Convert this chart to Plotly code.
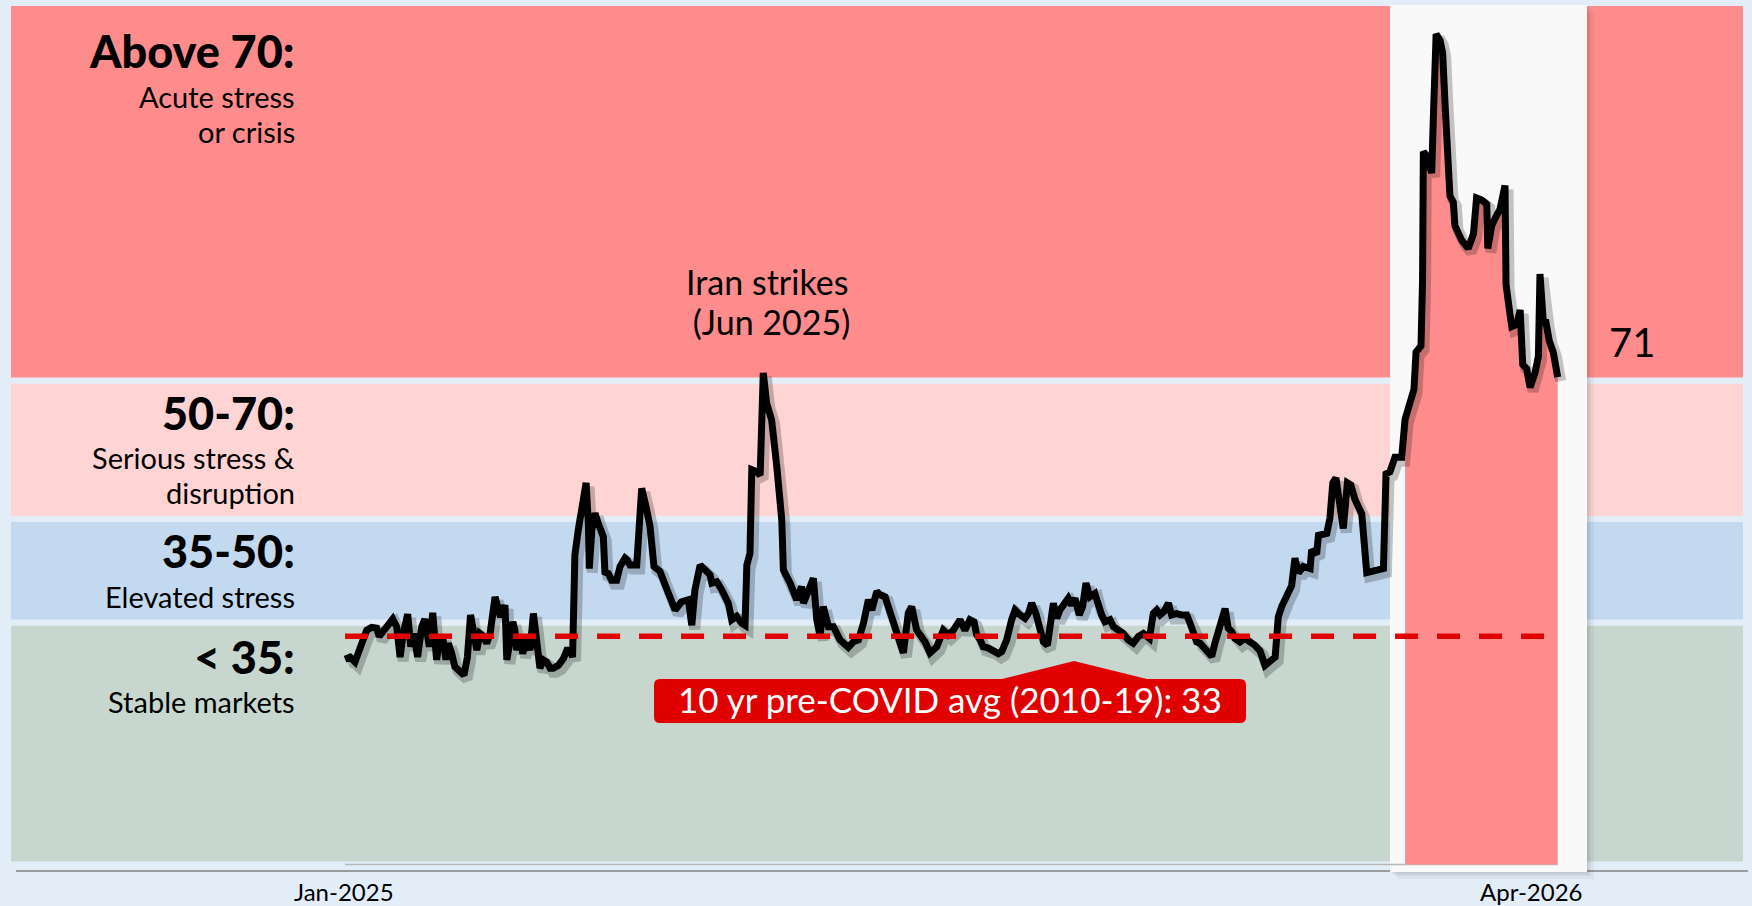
import pandas as pd
import plotly.graph_objects as go

# ---------------- data ----------------
base_date = "2025-01-01"
day_offsets = [
    0.4, 2.3, 4.2, 6.1, 7.4, 8.7, 10.6, 12.5, 13.5, 15.1, 17.0, 18.7, 20.2, 21.5, 22.7, 24.4, 25.6, 26.8, 28.2, 29.8,
    31.0, 32.0, 32.7, 34.0, 35.5, 36.5, 38.1, 39.1, 40.0, 41.3, 42.5, 44.5, 46.0, 47.3, 48.5, 49.8, 50.9, 52.1, 53.4, 54.7,
    56.0, 57.9, 59.2, 60.0, 61.7, 62.4, 63.6, 64.7, 65.5, 66.2, 67.5, 68.5, 70.0, 71.3, 72.6, 73.8, 75.1, 76.4, 77.7, 79.0,
    80.2, 82.2, 84.1, 85.4, 86.6, 87.6, 88.5, 89.8, 91.5, 92.8, 93.7, 94.0, 95.0, 96.2, 97.5, 99.4, 100.0, 101.3, 102.6, 104.5,
    105.8, 107.7, 108.6, 109.6, 112.2, 114.1, 115.8, 117.3, 118.8,
    121.1, 122.4, 124.3, 126.9, 129.4, 132.0, 133.3, 134.5, 136.5, 138.4, 140.3, 141.0, 142.9, 144.8, 147.3, 148.6, 150.5,
    152.4, 153.7, 154.4, 155.6, 156.3, 158.2, 159.5, 160.7, 162.0, 163.9, 165.9, 167.8, 168.4, 171.0, 173.5, 175.4, 176.1,
    178.0, 179.9, 181.2, 182.5, 183.7, 185.7, 187.6, 190.1, 193.3, 195.2, 197.2, 199.1, 201.0, 202.3, 204.2, 205.5, 207.4,
    209.3, 211.8, 214.4, 216.3, 217.6, 219.5, 221.4, 222.7, 224.6, 227.2, 229.7, 231.6, 233.6, 236.1,
    238.0, 239.9, 241.5, 242.5, 243.8, 245.0, 247.0, 248.9, 250.8, 252.1, 254.0, 255.9, 257.2, 259.1, 261.0, 262.3, 263.6,
    265.2, 266.8, 268.1, 269.6, 270.9, 271.9, 273.2, 274.4, 276.3, 277.6, 278.9, 280.2, 281.8, 283.1, 284.4, 285.9, 287.8,
    289.1, 290.4, 291.7, 293.6, 294.9, 296.8, 298.7, 300.6, 302.5, 304.5, 306.4, 308.7, 310.2, 311.5, 312.8, 314.3, 316.0,
    317.2, 319.1, 321.1, 323.0, 324.3, 325.5, 326.8, 328.1, 330.0, 331.3, 332.6, 333.8, 335.1, 336.4, 337.7, 338.9, 340.2,
    341.5, 343.4, 345.3, 347.3, 349.2,
    351.1, 353.0, 356.9, 358.1, 359.4, 361.3, 363.2, 364.5, 365.8, 367.7, 370.3, 370.9, 372.8, 373.5, 376.7, 377.9, 379.0,
    380.2, 381.8, 383.0, 384.6, 385.9, 387.5, 390.1, 392.0, 395.2, 398.4, 399.4, 400.9, 402.8, 405.4, 406.7, 408.3, 410.1,
    410.9, 412.8, 413.4, 413.7, 415.0, 416.9, 417.5, 418.6, 420.1, 421.1, 422.0, 423.9, 425.2, 425.8, 428.4, 430.9, 432.9,
    434.1, 436.1, 438.0, 438.4, 439.9, 441.8, 443.1, 445.0, 445.4, 446.9, 447.6, 449.5, 450.8, 451.8, 453.3, 454.6, 456.5,
    457.8, 458.4, 459.7, 460.7, 462.0, 463.5, 465.2,
]
stress_index = [
    29.7, 30.0, 29.3, 31.5, 32.5, 33.9, 34.3, 34.2, 33.0, 33.7, 34.9, 35.5, 34.4, 30.0, 33.4, 36.2, 31.5, 33.4, 30.0, 34.4,
    35.5, 33.4, 31.5, 36.4, 29.6, 32.1, 32.2, 29.6, 32.0, 30.5, 28.6, 27.9, 27.4, 30.0, 36.1, 33.4, 31.0, 33.4, 33.0, 32.0,
    33.4, 38.7, 37.3, 35.8, 37.5, 29.6, 32.2, 35.1, 33.9, 31.0, 32.9, 30.5, 32.5, 31.0, 36.3, 31.5, 28.4, 29.6, 29.3, 28.4,
    28.4, 28.8, 29.8, 31.0, 31.0, 30.0, 44.8, 48.4, 52.2, 55.2, 48.9, 42.8, 48.4, 50.8, 49.3, 47.4, 42.3, 42.1, 41.1, 41.1,
    43.1, 44.3, 44.0, 43.3, 43.3, 54.4, 51.7, 48.9, 43.1,
    42.4, 41.1, 39.2, 36.8, 38.0, 38.3, 34.6, 39.7, 43.3, 42.6, 41.9, 40.7, 40.9, 39.7, 37.8, 35.4, 35.9,
    34.9, 34.6, 43.3, 45.0, 57.1, 56.8, 56.3, 71.1, 66.7, 64.3, 57.5, 49.8, 42.6, 40.7, 38.3, 40.2, 37.8,
    39.7, 41.4, 35.4, 33.0, 37.3, 34.4, 34.4, 32.5, 31.4, 32.2, 32.5, 34.9, 38.3, 36.8, 39.5, 39.0, 38.7,
    36.4, 33.9, 30.6, 36.4, 37.3, 33.9, 33.0, 32.2, 30.6, 31.5, 33.9, 33.2, 33.9, 35.4,
    33.9, 35.4, 35.1, 33.2, 32.5, 31.5, 31.3, 31.0, 30.5, 30.8, 32.5, 35.4, 36.8, 36.1, 35.6, 36.3, 37.8,
    36.3, 33.9, 32.2, 31.7, 34.4, 37.8, 35.6, 36.8, 37.8, 38.5, 37.5, 38.5, 36.1, 37.3, 40.7, 38.7, 39.2,
    37.3, 36.1, 35.1, 35.4, 34.4, 33.9, 33.4, 32.5, 32.0, 33.0, 33.4, 32.7, 36.3, 36.8, 36.1, 36.6, 37.8,
    36.1, 36.3, 36.1, 36.1, 34.9, 33.4, 32.2, 32.0, 31.3, 30.5, 30.1, 32.0, 33.9, 35.8, 37.0, 34.2, 33.7,
    32.7, 32.2, 32.7, 32.2, 31.7,
    30.9, 28.8, 30.0, 35.8, 37.3, 38.8, 40.3, 44.3, 42.2, 43.1, 42.8, 45.5, 44.9, 47.6, 47.9, 50.1, 55.2,
    55.9, 51.6, 48.6, 55.2, 54.9, 52.8, 50.7, 42.2, 42.5, 42.8, 56.5, 56.8, 58.9, 58.9, 64.4, 66.5, 68.7,
    74.1, 75.0, 84.5, 103.1, 102.5, 100.0, 107.6, 120.1, 119.2, 117.4, 110.1, 96.7, 95.8, 92.4, 90.3, 89.1, 91.2,
    96.4, 96.1, 95.5, 89.1, 92.4, 93.9, 94.8, 98.2, 83.9, 79.6, 77.8, 78.1, 80.2, 72.3, 71.7, 69.0, 71.1,
    73.5, 85.4, 78.4, 78.4, 75.7, 74.1, 70.5,
]
crisis_start_offset = 406.7
precovid_avg = 33
latest_label = "71"
tick_dates = ["2025-01-01", "2026-04-01"]
tick_labels = ["Jan-2025", "Apr-2026"]
band_limits = [0, 35, 50, 70, 124.6]
band_colors = ["#c7d7cf", "#c3d9f0", "#ffd4d4", "#ff8c8c"]
band_titles = ["&lt; 35:", "35-50:", "50-70:", "Above 70:"]
band_descriptions = [["Stable markets"], ["Elevated stress"], ["Serious stress &amp;", "disruption"], ["Acute stress", "or crisis"]]
event_lines = ["Iran strikes", " (Jun 2025)"]
avg_label = "10 yr pre-COVID avg (2010-19): 33"

# ---------------- geometry / style ----------------
W, H = 1752, 906
BG = "#e3edf8"
RED = "#ff8c8c"
PX_PER_DAY = 2.609
PX_PER_UNIT = 6.914
X0_PX = 344.0      # pixel of base date
Y0_PX = 864.5      # pixel of value 0
FONT = "Lato"


def pxx(x):
    return x / W


def pxy(y):
    return 1 - y / H


base = pd.Timestamp(base_date)
dates = base + pd.to_timedelta(day_offsets, unit="D")


def ts(days):
    return (base + pd.Timedelta(days=days)).strftime("%Y-%m-%d %H:%M:%S")


x_lo = -X0_PX / PX_PER_DAY
x_hi = (W - X0_PX) / PX_PER_DAY
y_lo = -(H - Y0_PX) / PX_PER_UNIT
y_hi = Y0_PX / PX_PER_UNIT
sh_dx, sh_dy = 3 / PX_PER_DAY, 4 / PX_PER_UNIT

fig = go.Figure()

mask = [d >= crisis_start_offset for d in day_offsets]
fig.add_trace(go.Scatter(
    x=[d for d, m in zip(dates, mask) if m], y=[v for v, m in zip(stress_index, mask) if m],
    mode="lines", fill="tozeroy", fillcolor=RED, line=dict(width=0, color=RED),
    hoverinfo="skip", showlegend=False, xaxis="x", yaxis="y"))

# line shadow (shifted axes)
fig.add_trace(go.Scatter(x=dates, y=stress_index, mode="lines",
                         line=dict(color="rgba(0,0,0,0.22)", width=11),
                         hoverinfo="skip", showlegend=False, xaxis="x2", yaxis="y2"))

fig.add_trace(go.Scatter(x=dates, y=stress_index, mode="lines",
                         line=dict(color="#000000", width=7),
                         showlegend=False, xaxis="x3", yaxis="y3"))
fig.add_trace(go.Scatter(x=[dates[0], dates[-1]], y=[precovid_avg, precovid_avg], mode="lines",
                         line=dict(color="#e00000", width=5.5, dash="23px,19px"),
                         hoverinfo="skip", showlegend=False, xaxis="x3", yaxis="y3"))

shapes = []
for i, col in enumerate(band_colors):
    shapes.append(dict(type="rect", xref="paper", yref="y", x0=pxx(8), x1=pxx(1746),
                       y0=band_limits[i], y1=band_limits[i + 1], fillcolor=col,
                       line=dict(color=BG, width=6), layer="below"))
shapes.append(dict(type="line", xref="paper", yref="paper", x0=pxx(16), x1=pxx(1748),
                   y0=pxy(871), y1=pxy(871), line=dict(color="#808080", width=1.5), layer="below"))
for d, a in [(2, 0.07), (4, 0.06), (7, 0.05)]:
    shapes.append(dict(type="rect", xref="paper", yref="paper", x0=pxx(1390 + d), x1=pxx(1587 + d),
                       y0=pxy(872 + d), y1=pxy(5 + d), fillcolor=f"rgba(30,30,30,{a})",
                       line=dict(width=0), layer="below"))
shapes.append(dict(type="rect", xref="paper", yref="paper", x0=pxx(1390), x1=pxx(1587),
                   y0=pxy(872), y1=pxy(5), fillcolor="#faf9f9", line=dict(width=0), layer="below"))
shapes.append(dict(type="line", xref="x", yref="y", x0=dates[0], x1=dates[-1], y0=0, y1=0,
                   line=dict(color="#b5b9b9", width=1.5), layer="below"))

# callout box with pointer
r = 6
L, R, T, B = 654, 1246, 679, 723
pts = f"M{pxx(L + r)},{pxy(T)} L{pxx(1002)},{pxy(T)} L{pxx(1074)},{pxy(661)} L{pxx(1147)},{pxy(T)} " \
      f"L{pxx(R - r)},{pxy(T)} Q{pxx(R)},{pxy(T)} {pxx(R)},{pxy(T + r)} L{pxx(R)},{pxy(B - r)} " \
      f"Q{pxx(R)},{pxy(B)} {pxx(R - r)},{pxy(B)} L{pxx(L + r)},{pxy(B)} Q{pxx(L)},{pxy(B)} {pxx(L)},{pxy(B - r)} " \
      f"L{pxx(L)},{pxy(T + r)} Q{pxx(L)},{pxy(T)} {pxx(L + r)},{pxy(T)} Z"
shapes.append(dict(type="path", xref="paper", yref="paper", path=pts, fillcolor="#e00000",
                   line=dict(width=0), layer="above"))

annotations = []


def label(text, x, baseline, size, anchor="right", weight=400, color="#000000"):
    annotations.append(dict(text=text, xref="paper", yref="paper", x=pxx(x), y=pxy(baseline - 0.387 * size),
                            xanchor=anchor, yanchor="middle", showarrow=False, borderpad=0,
                            font=dict(family=FONT, size=size, color=color, weight=weight)))


title_baselines = [674, 568, 430, 68]
desc_baselines = [[713], [608], [469, 504], [108, 143]]
for t, tb, descs, dbs in zip(band_titles, title_baselines, band_descriptions, desc_baselines):
    label(t, 296, tb, 45, weight=900)
    for dtext, db in zip(descs, dbs):
        label(dtext, 296, db, 29)

label(event_lines[0], 767, 295, 34, anchor="center")
label(event_lines[1], 767, 335, 34, anchor="center")
label(latest_label, 1632, 357, 40, anchor="center")
label(avg_label, 950, 713, 35, anchor="center", color="#ffffff")

for td, tl in zip(tick_dates, tick_labels):
    annotations.append(dict(text=tl, xref="x", yref="paper", x=td, y=pxy(901 - 0.387 * 24),
                            xanchor="center", yanchor="middle", showarrow=False, borderpad=0,
                            font=dict(family=FONT, size=24, color="#000000")))

ax_common = dict(visible=False, fixedrange=True, showgrid=False, zeroline=False)
fig.update_layout(
    width=W, height=H, autosize=False,
    margin=dict(l=0, r=0, t=0, b=0, pad=0),
    paper_bgcolor=BG, plot_bgcolor="rgba(0,0,0,0)",
    showlegend=False,
    xaxis=dict(type="date", range=[ts(x_lo), ts(x_hi)], **ax_common),
    yaxis=dict(range=[y_lo, y_hi], **ax_common),
    xaxis2=dict(type="date", overlaying="x", range=[ts(x_lo - sh_dx), ts(x_hi - sh_dx)], **ax_common),
    yaxis2=dict(overlaying="y", range=[y_lo + sh_dy, y_hi + sh_dy], **ax_common),
    xaxis3=dict(type="date", overlaying="x", range=[ts(x_lo), ts(x_hi)], **ax_common),
    yaxis3=dict(overlaying="y", range=[y_lo, y_hi], **ax_common),
    shapes=shapes, annotations=annotations,
)

fig.write_html("out.html", config={"displayModeBar": False},
               post_script="document.body.style.margin='0';document.body.style.overflow='hidden';")
